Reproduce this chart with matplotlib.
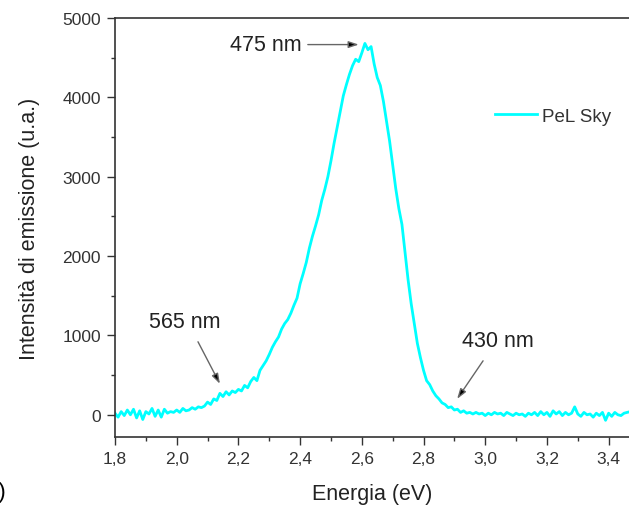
import matplotlib
matplotlib.use('Agg')
import matplotlib.pyplot as plt
import numpy as np
from matplotlib.ticker import MultipleLocator, FuncFormatter

plt.rcParams['font.family'] = ['Liberation Sans', 'DejaVu Sans']

# energy grid (eV) and emission intensity
energy = np.round(np.arange(1.80, 3.475, 0.01), 2)
intensity = [
    20, -30, 40, -10, 60, 0, 70, -40, 50, -60,
    40, 10, 80, -20, 60, -30, 70, 20, 40, 30,
    60, 30, 80, 50, 60, 90, 70, 100, 90, 110,
    160, 130, 200, 180, 270, 230, 290, 250, 300, 280,
    320, 300, 370, 340, 420, 470, 430, 560, 620, 680,
    760, 850, 920, 980, 1080, 1150, 1200, 1280, 1380, 1470,
    1650, 1780, 1920, 2100, 2250, 2380, 2520, 2700, 2840, 3000,
    3200, 3420, 3620, 3820, 4020, 4160, 4290, 4400, 4480, 4450,
    4560, 4680, 4600, 4640, 4420, 4250, 4150, 3950, 3700, 3450,
    3150, 2850, 2600, 2400, 2050, 1700, 1400, 1150, 900, 720,
    560, 430, 380, 300, 240, 200, 150, 130, 90, 100,
    60, 70, 30, 50, 20, 30, 10, 30, 10, 20,
    -10, 20, 0, 30, 10, 20, -10, 30, 10, -10,
    20, 0, 10, -20, 20, 0, 30, -10, 40, 0,
    30, -20, 50, 10, 40, -10, 30, 0, 20, 100,
    10, -20, 30, 0, 10, -30, 20, -10, 30, -70,
    20, -20, 30, 0, -10, 20, 30, 40,
]
series_name = 'PeL Sky'

# annotations: label, text position, arrow tip, arrow start
notes = [
    ('475 nm', (2.29, 4665), (2.59, 4665), (2.425, 4665)),
    ('565 nm', (2.025, 1170), (2.14, 390), (2.069, 920)),
    ('430 nm', (3.04, 930), (2.909, 200), (2.993, 680)),
]

fig = plt.figure(figsize=(6.29, 5.10), dpi=100)
ax = fig.add_axes([115 / 629, 72 / 510, 514 / 629, 419 / 510])

ax.plot(energy, intensity, color='#00FFFF', lw=2, label=series_name)

ax.set_xlim(1.8, 3.466)
ax.set_ylim(-280, 5000)
ax.xaxis.set_major_locator(MultipleLocator(0.2))
ax.xaxis.set_minor_locator(MultipleLocator(0.1))
ax.yaxis.set_major_locator(MultipleLocator(1000))
ax.yaxis.set_minor_locator(MultipleLocator(500))
ax.xaxis.set_major_formatter(FuncFormatter(lambda v, p: f'{v:.1f}'.replace('.', ',')))
ax.tick_params(which='major', direction='out', length=6, width=1, labelsize=12.5,
               colors='#333333', pad=4)
ax.tick_params(which='minor', direction='out', length=3, width=1, colors='#333333')
ax.spines['right'].set_visible(False)
for s in ['left', 'bottom', 'top']:
    ax.spines[s].set_color('#333333')
    ax.spines[s].set_linewidth(1.2)

ax.set_xlabel('Energia (eV)', fontsize=15.5, color='#222222', labelpad=12)
ax.set_ylabel('Intensità di emissione (u.a.)', fontsize=15.5, color='#222222', labelpad=16)

for label, txt, tip, start in notes:
    ax.text(txt[0], txt[1], label, fontsize=15.5, ha='center', va='center', color='#222222')
    ax.annotate('', xy=tip, xytext=start,
                arrowprops=dict(arrowstyle='-|>,head_length=0.6,head_width=0.2',
                                ec='#666666', fc='black', lw=1, shrinkA=0, shrinkB=0))

leg = ax.legend(loc='center left', bbox_to_anchor=(0.74, 0.766), frameon=False,
                fontsize=13.5, handlelength=2.2, handletextpad=0.3, borderpad=0,
                borderaxespad=0)
for t in leg.get_texts():
    t.set_color('#333333')

fig.text(6 / 629, 1 - 493 / 510, 'b)', ha='right', va='center', fontsize=16)

fig.savefig('out.png', dpi=100)
